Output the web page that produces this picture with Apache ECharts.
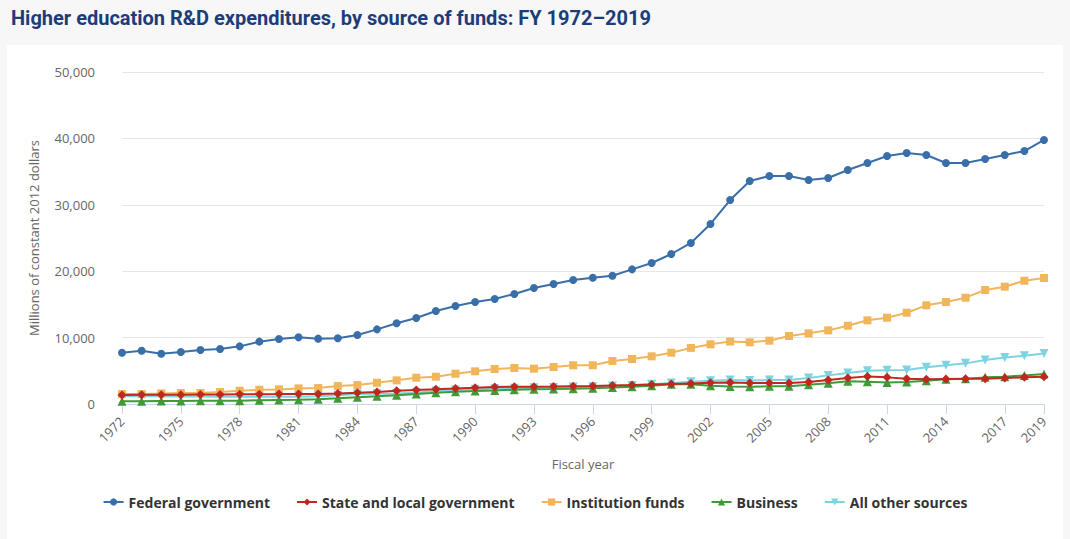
<!DOCTYPE html>
<html>
<head>
<meta charset="utf-8">
<script src="https://cdn.jsdelivr.net/npm/echarts@6/dist/echarts.min.js"></script>
<style>
html,body{margin:0;padding:0;background:#f7f7f7;width:1070px;height:539px;overflow:hidden;}
#card{position:absolute;left:7px;top:45px;width:1056px;height:494px;background:#fff;}
#chart{position:absolute;left:0;top:0;width:1070px;height:539px;}
</style>
</head>
<body>
<div id="card"></div>
<div id="chart"></div>
<script>
const years = [];
for (let y = 1972; y <= 2019; y++) years.push(String(y));

const federal = [7730,8030,7580,7830,8130,8280,8680,9390,9790,10040,9840,9890,10390,11240,12150,12950,14000,14760,15360,15810,16570,17470,18070,18670,19020,19320,20280,21230,22590,24250,27110,30720,33580,34340,34340,33730,34040,35240,36300,37350,37800,37500,36300,36300,36900,37500,38100,39760];
const stateLocal = [1350,1380,1380,1400,1420,1430,1460,1480,1490,1510,1520,1600,1700,1800,1980,2100,2210,2350,2450,2550,2600,2610,2620,2680,2720,2800,2850,2950,3000,3100,3200,3250,3150,3150,3150,3300,3610,3910,4160,4010,3810,3710,3760,3810,3810,3910,4010,4110];
const institution = [1500,1500,1600,1650,1650,1800,2000,2150,2200,2350,2400,2700,2850,3200,3560,3960,4110,4560,4920,5270,5420,5320,5570,5830,5830,6480,6780,7180,7730,8450,8990,9410,9290,9540,10240,10640,11090,11790,12600,13000,13750,14860,15360,16010,17170,17670,18570,18980];
const business = [400,420,440,460,480,490,500,560,610,650,720,850,1000,1150,1330,1510,1710,1840,1960,2050,2150,2210,2250,2300,2360,2480,2600,2760,2960,2960,2760,2650,2610,2660,2660,2910,3110,3410,3350,3250,3310,3510,3710,3810,4010,4110,4310,4510];
const otherSources = [1200,1180,1150,1130,1120,1100,1100,1100,1100,1100,1150,1300,1500,1550,1600,1710,1960,2100,2210,2300,2380,2460,2500,2550,2610,2700,2800,2960,3160,3360,3500,3600,3550,3610,3610,3910,4310,4660,5020,5070,5120,5520,5820,6120,6620,7020,7270,7620];

const seriesNames = ['Federal government','State and local government','Institution funds','Business','All other sources'];
const seriesColors = ['#3a6ea8','#c0281f','#f1b55b','#3f9a37','#7dd3e0'];
const seriesSymbols = ['circle','diamond','rect','triangle','path://M0,0 L10,0 L5,9 Z'];
const seriesData = [federal, stateLocal, institution, business, otherSources];
const symbolSizes = [8, 9, 8, 9, 9];

const showIdx = function (i) { return i % 3 === 0 || i === years.length - 1; };

const chart = echarts.init(document.getElementById('chart'), null, {renderer: 'svg'});
chart.setOption({
  animation: false,
  backgroundColor: 'transparent',
  title: {
    text: 'Higher education R&D expenditures, by source of funds: FY 1972\u20132019',
    left: 6, top: 3,
    textStyle: {fontFamily: 'Roboto', fontWeight: 'bold', fontSize: 20, color: '#1b3d7c'}
  },
  legend: {
    data: seriesNames,
    left: 'center', top: 490,
    itemWidth: 20, itemHeight: 9, itemGap: 26,
    textStyle: {fontFamily: 'Open Sans', fontWeight: 'bold', fontSize: 14, color: '#333'}
  },
  grid: {left: 122, right: 26, top: 72, bottom: 135},
  xAxis: {
    type: 'category',
    data: years,
    boundaryGap: false,
    name: 'Fiscal year',
    nameLocation: 'middle',
    nameGap: 53,
    nameTextStyle: {fontFamily: 'Open Sans', fontSize: 13, color: '#666'},
    axisLine: {lineStyle: {color: '#ccd6eb'}},
    axisTick: {interval: showIdx, length: 10, lineStyle: {color: '#ccd6eb'}},
    axisLabel: {interval: showIdx, rotate: 45, fontFamily: 'Open Sans', fontSize: 13, color: '#666', margin: 15}
  },
  yAxis: {
    type: 'value',
    min: 0, max: 50000, interval: 10000,
    name: 'Millions of constant 2012 dollars',
    nameLocation: 'middle',
    nameGap: 82,
    nameTextStyle: {fontFamily: 'Open Sans', fontSize: 13, color: '#666'},
    axisLine: {show: false},
    axisTick: {show: false},
    splitLine: {lineStyle: {color: '#e6e6e6'}},
    axisLabel: {
      fontFamily: 'Open Sans', fontSize: 13, color: '#666', margin: 27,
      formatter: function (v) { return v.toLocaleString('en-US'); }
    }
  },
  series: seriesNames.map(function (n, i) {
    return {
      name: n,
      type: 'line',
      data: seriesData[i],
      symbol: seriesSymbols[i],
      symbolSize: symbolSizes[i],
      showAllSymbol: true,
      z: 10 - i,
      lineStyle: {width: 2, color: seriesColors[i]},
      itemStyle: {color: seriesColors[i]}
    };
  })
});
</script>
</body>
</html>
